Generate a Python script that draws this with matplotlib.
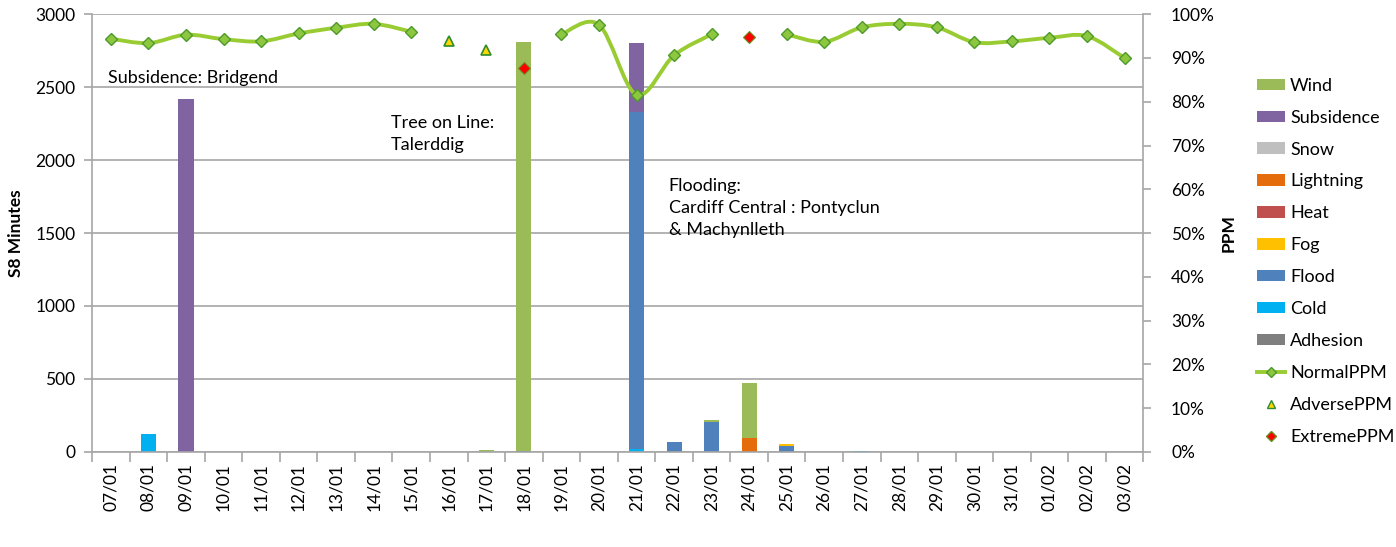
import matplotlib.pyplot as plt
import numpy as np
from matplotlib.path import Path
from matplotlib.patches import PathPatch, Patch
from matplotlib.lines import Line2D
from matplotlib.ticker import FixedLocator, PercentFormatter

plt.rcParams['font.family'] = ['Lato', 'DejaVu Sans']

dates = ["07/01", "08/01", "09/01", "10/01", "11/01", "12/01", "13/01", "14/01",
         "15/01", "16/01", "17/01", "18/01", "19/01", "20/01", "21/01", "22/01",
         "23/01", "24/01", "25/01", "26/01", "27/01", "28/01", "29/01", "30/01",
         "31/01", "01/02", "02/02", "03/02"]

# S8 minutes by cause (stacked, bottom to top)
adhesion = [0] * 28
cold = [0, 120, 0, 0, 0, 0, 0, 0, 0, 0, 0, 0, 0, 0, 20, 0, 0, 0, 0, 0, 7, 0, 0, 0, 0, 0, 0, 0]
flood = [0, 0, 0, 0, 0, 0, 0, 0, 0, 0, 0, 8, 0, 0, 2310, 68, 204, 0, 43, 0, 0, 0, 0, 0, 0, 0, 0, 0]
fog = [0, 0, 0, 0, 0, 0, 0, 0, 0, 0, 0, 0, 0, 0, 0, 0, 0, 0, 9, 0, 0, 0, 0, 0, 0, 0, 0, 0]
heat = [0] * 28
lightning = [0, 0, 0, 0, 0, 0, 0, 0, 0, 0, 0, 0, 0, 0, 0, 0, 0, 95, 0, 0, 0, 0, 0, 0, 0, 0, 0, 0]
snow = [0] * 28
subsidence = [0, 0, 2420, 0, 0, 0, 0, 0, 0, 0, 0, 0, 0, 0, 470, 0, 0, 0, 0, 0, 0, 0, 0, 0, 0, 0, 0, 0]
wind = [0, 0, 0, 0, 0, 0, 0, 0, 0, 0, 10, 2800, 0, 0, 0, 0, 11, 380, 0, 0, 0, 0, 0, 0, 0, 0, 0, 0]

# PPM (%), None where no value
normal_ppm = [94.4, 93.4, 95.3, 94.3, 93.8, 95.6, 96.9, 97.8, 96.0, None, None, None,
              95.4, 97.6, 81.6, 90.6, 95.4, None, 95.4, 93.7, 97.0, 97.8, 97.0, 93.6,
              93.8, 94.6, 95.0, 90.0]
adverse_ppm = [None] * 9 + [93.9, 91.9] + [None] * 17
extreme_ppm = [None] * 11 + [87.6] + [None] * 5 + [94.9] + [None] * 10

series = [("Adhesion", adhesion, "#7F7F7F"), ("Cold", cold, "#00B0F0"),
          ("Flood", flood, "#4F81BD"), ("Fog", fog, "#FFC000"),
          ("Heat", heat, "#C0504D"), ("Lightning", lightning, "#E46C0A"),
          ("Snow", snow, "#BFBFBF"), ("Subsidence", subsidence, "#8064A2"),
          ("Wind", wind, "#9BBB59")]

GRID = "#A6A6A6"
LINE_GREEN = "#99CC33"

fig = plt.figure(figsize=(13.96, 5.47), dpi=100)
ax = fig.add_axes([0.066, 0.174, 0.753, 0.800])
x = np.arange(len(dates))

bottom = np.zeros(len(dates))
for name, vals, col in series:
    vals = np.array(vals, dtype=float)
    ax.bar(x, vals, 0.4, bottom=bottom, color=col, zorder=2)
    bottom += vals

ax.set_xlim(-0.5, len(dates) - 0.5)
ax.set_ylim(0, 3000)
ax.set_yticks(np.arange(0, 3001, 500))
ax.grid(axis="y", color=GRID, linewidth=1.2, zorder=0)
ax.set_axisbelow(True)
ax.set_xticks(x)
ax.set_xticklabels(dates, rotation=90, fontsize=12.5)
ax.xaxis.set_minor_locator(FixedLocator(np.arange(-0.5, len(dates), 1.0)))
ax.tick_params(axis="x", which="major", length=0, pad=8)
ax.tick_params(axis="x", which="minor", length=7, color=GRID, width=1.2)
ax.tick_params(axis="y", length=6, color=GRID, width=1.2, labelsize=12.5, pad=6)
for s in ["top", "right"]:
    ax.spines[s].set_visible(False)
for s in ["left", "bottom"]:
    ax.spines[s].set_color(GRID)
    ax.spines[s].set_linewidth(1.2)
ax.set_ylabel("S8 Minutes", fontsize=12.5, fontweight="bold", labelpad=8)

ax2 = ax.twinx()
ax2.set_ylim(0, 100)
ax2.set_yticks(np.arange(0, 101, 10))
ax2.yaxis.set_major_formatter(PercentFormatter(decimals=0))
ax2.tick_params(axis="y", length=6, color=GRID, width=1.2, labelsize=12.5, pad=14)
for s in ["top", "left", "bottom"]:
    ax2.spines[s].set_visible(False)
ax2.spines["right"].set_color(GRID)
ax2.spines["right"].set_linewidth(1.2)
ax2.set_ylabel("PPM", fontsize=12.5, fontweight="bold", labelpad=4)

# smoothed NormalPPM line (Excel style), broken where values are missing
runs, cur = [], []
for i, v in enumerate(normal_ppm):
    if v is None:
        if cur:
            runs.append(cur)
        cur = []
    else:
        cur.append((i, v))
if cur:
    runs.append(cur)

for run in runs:
    pts = np.array(run, dtype=float)
    if len(pts) < 2:
        continue
    verts = [tuple(pts[0])]
    codes = [Path.MOVETO]
    for k in range(len(pts) - 1):
        p0 = pts[k - 1] if k > 0 else pts[k]
        p1, p2 = pts[k], pts[k + 1]
        p3 = pts[k + 2] if k + 2 < len(pts) else pts[k + 1]
        c1 = p1 + (p2 - p0) / 6.0
        c2 = p2 - (p3 - p1) / 6.0
        verts += [tuple(c1), tuple(c2), tuple(p2)]
        codes += [Path.CURVE4] * 3
    ax2.add_patch(PathPatch(Path(verts, codes), fill=False, edgecolor=LINE_GREEN,
                            linewidth=2.8, zorder=3, capstyle="round"))

nx = [i for i, v in enumerate(normal_ppm) if v is not None]
ny = [v for v in normal_ppm if v is not None]
ax2.plot(nx, ny, linestyle="none", marker="D", markersize=6, markerfacecolor="#8DC63F",
         markeredgecolor="#4E9A2A", markeredgewidth=1.0, zorder=4)
axx = [i for i, v in enumerate(adverse_ppm) if v is not None]
ay = [v for v in adverse_ppm if v is not None]
ax2.plot(axx, ay, linestyle="none", marker="^", markersize=7, markerfacecolor="#FFD700",
         markeredgecolor="#2E8B2E", markeredgewidth=1.2, zorder=4)
ex = [i for i, v in enumerate(extreme_ppm) if v is not None]
ey = [v for v in extreme_ppm if v is not None]
ax2.plot(ex, ey, linestyle="none", marker="D", markersize=6, markerfacecolor="#FF0000",
         markeredgecolor="#6B8E23", markeredgewidth=0.8, zorder=4)

# annotations
ax.text(-0.07, 2615, "Subsidence: Bridgend", fontsize=13, va="top", ha="left", zorder=5)
ax.text(7.45, 2310, "Tree on Line:\nTalerddig", fontsize=13, va="top", ha="left",
        linespacing=1.45, zorder=5)
ax.text(14.86, 1875, "Flooding:\nCardiff Central : Pontyclun\n& Machynlleth", fontsize=13,
        va="top", ha="left", linespacing=1.45, zorder=5)

handles = [Patch(facecolor=col, edgecolor="none") for name, vals, col in reversed(series)]
labels = [name for name, vals, col in reversed(series)]
handles += [Line2D([], [], color=LINE_GREEN, linewidth=2.8, marker="D", markersize=5,
                   markerfacecolor="#8DC63F", markeredgecolor="#4E9A2A"),
            Line2D([], [], linestyle="none", marker="^", markersize=6,
                   markerfacecolor="#FFD700", markeredgecolor="#2E8B2E"),
            Line2D([], [], linestyle="none", marker="D", markersize=5,
                   markerfacecolor="#FF0000", markeredgecolor="#6B8E23")]
labels += ["NormalPPM", "AdversePPM", "ExtremePPM"]
fig.legend(handles, labels, loc="upper left", bbox_to_anchor=(0.895, 0.871), frameon=False,
           fontsize=13, handlelength=1.55, handleheight=0.6, handletextpad=0.3,
           labelspacing=0.88, borderaxespad=0)

fig.savefig("out.png", dpi=100)
